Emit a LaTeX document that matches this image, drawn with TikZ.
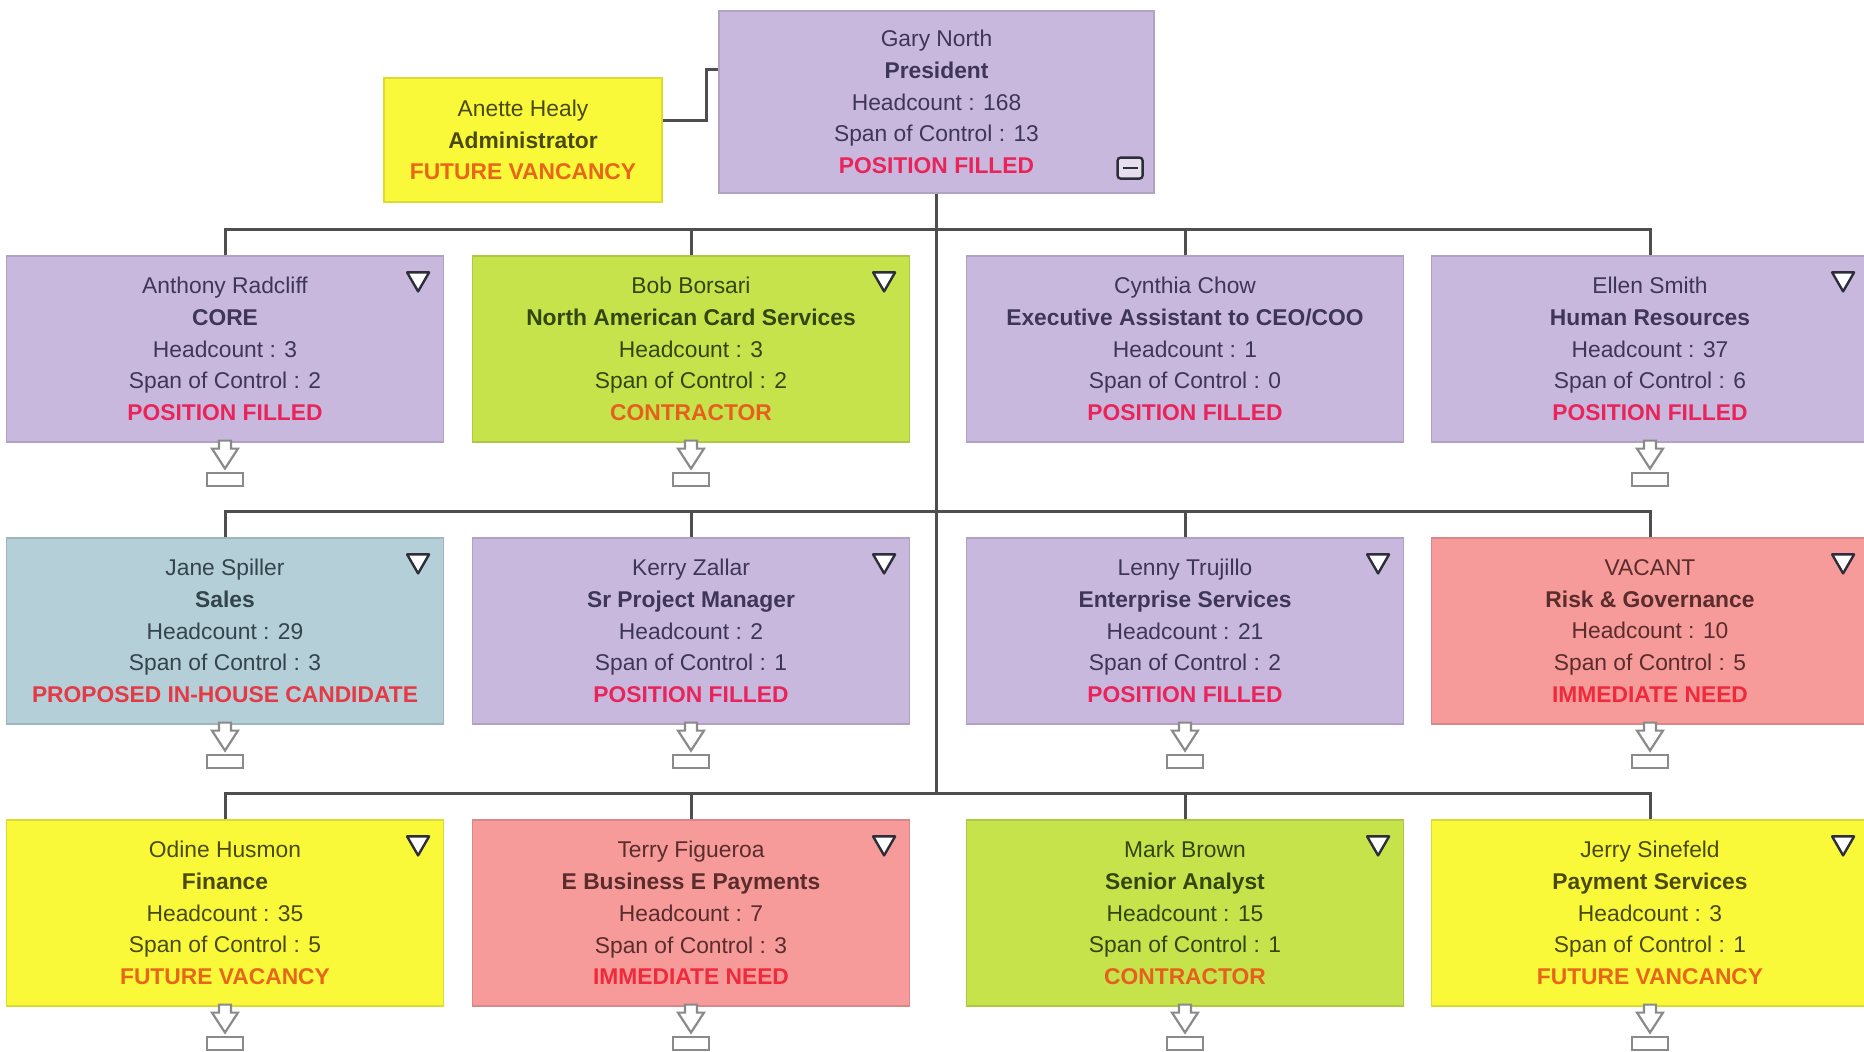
\documentclass[tikz,border=0pt]{standalone}
\usepackage{fontspec}
\setmainfont{Liberation Sans}
\usetikzlibrary{calc}
\definecolor{purpfill}{HTML}{C9B8DD}
\definecolor{greenfill}{HTML}{C6E34C}
\definecolor{yellowfill}{HTML}{F9F93A}
\definecolor{pinkfill}{HTML}{F69A9A}
\definecolor{bluefill}{HTML}{B4CFD8}
\definecolor{purptext}{HTML}{3E3656}
\definecolor{greentext}{HTML}{34460F}
\definecolor{yellowtext}{HTML}{4A4A10}
\definecolor{pinktext}{HTML}{5A2C2C}
\definecolor{bluetext}{HTML}{34444C}
\definecolor{stfilled}{HTML}{E8245A}
\definecolor{stcontr}{HTML}{E4601C}
\definecolor{stfuture}{HTML}{E8661A}
\definecolor{stneed}{HTML}{EE2A3C}
\definecolor{stprop}{HTML}{E33A45}
\definecolor{conncol}{HTML}{4E4E4E}
\definecolor{icondark}{HTML}{2E2E3A}
\definecolor{icongray}{HTML}{8A8A8A}
\newcommand\stFilled{\textbf{\textcolor{stfilled}{POSITION FILLED}}}
\newcommand\stContr{\textbf{\textcolor{stcontr}{CONTRACTOR}}}
\newcommand\stNeed{\textbf{\textcolor{stneed}{IMMEDIATE NEED}}}
\newcommand\obox[9]{\node[#4] (#1) at (#2,#3) {#5\\\textbf{#6}\\Headcount : #7\\Span of Control : #8\\#9};}
\newcommand\tricon[1]{\draw[tricn] ($(#1.north east)+(-37,17)$) -- ++(22,0) -- ++(-11,19) -- cycle;}
\newcommand\expicon[1]{\draw[expico] ($(#1.south)+(-6,-2)$) -- ++(12,0) -- ++(0,8) -- ++(7,0) -- ++(-13,20) -- ++(-13,-20) -- ++(7,0) -- cycle;
  \draw[expico] ($(#1.south)+(-18,30)$) rectangle ++(36,13);}
\tikzset{
  org/.style={rectangle, minimum width=437pt, minimum height=186pt, inner sep=0pt,
    align=center, font=\fontsize{22.8}{31.8}\selectfont, line width=1.2pt},
  purp/.style={org, fill=purpfill, draw=purpfill!88!black, text=purptext},
  grn/.style={org, fill=greenfill, draw=greenfill!88!black, text=greentext},
  yel/.style={org, fill=yellowfill, draw=yellowfill!88!black, text=yellowtext},
  pnk/.style={org, fill=pinkfill, draw=pinkfill!88!black, text=pinktext},
  blu/.style={org, fill=bluefill, draw=bluefill!88!black, text=bluetext},
  conn/.style={draw=conncol, line width=3pt},
  tricn/.style={draw=icondark, line width=2.4pt, fill=white, line join=round},
  expico/.style={draw=icongray, line width=2.2pt, fill=white, line join=miter},
}
\begin{document}
\begin{tikzpicture}[x=1pt,y=-1pt]
\useasboundingbox[fill=white] (0,0) rectangle (1864,1052);
% connectors
\coordinate (bus1) at (938,229);
\coordinate (bus2) at (938,511);
\coordinate (bus3) at (938,793);
% top boxes
\node[purp, minimum width=435pt, minimum height=182pt] (gary) at (936.5,102)
  {Gary North\\\textbf{President}\\Headcount : 168\\Span of Control : 13\\\stFilled};
\node[yel, minimum width=278pt, minimum height=124pt] (anette) at (523,140)
  {Anette Healy\\\textbf{Administrator}\\\textbf{\textcolor{stfuture}{FUTURE VANCANCY}}};
% row 1
\obox{r1c1}{225}{349}{purp}{Anthony Radcliff}{CORE}{3}{2}{\stFilled}
\obox{r1c2}{691}{349}{grn}{Bob Borsari}{North American Card Services}{3}{2}{\stContr}
\obox{r1c3}{1185}{349}{purp}{Cynthia Chow}{Executive Assistant to CEO/COO}{1}{0}{\stFilled}
\obox{r1c4}{1650}{349}{purp}{Ellen Smith}{Human Resources}{37}{6}{\stFilled}
% row 2
\obox{r2c1}{225}{631}{blu}{Jane Spiller}{Sales}{29}{3}{\textbf{\textcolor{stprop}{PROPOSED IN-HOUSE CANDIDATE}}}
\obox{r2c2}{691}{631}{purp}{Kerry Zallar}{Sr Project Manager}{2}{1}{\stFilled}
\obox{r2c3}{1185}{631}{purp}{Lenny Trujillo}{Enterprise Services}{21}{2}{\stFilled}
\obox{r2c4}{1650}{631}{pnk}{VACANT}{Risk \& Governance}{10}{5}{\stNeed}
% row 3
\obox{r3c1}{225}{913}{yel}{Odine Husmon}{Finance}{35}{5}{\textbf{\textcolor{stfuture}{FUTURE VACANCY}}}
\obox{r3c2}{691}{913}{pnk}{Terry Figueroa}{E Business E Payments}{7}{3}{\stNeed}
\obox{r3c3}{1185}{913}{grn}{Mark Brown}{Senior Analyst}{15}{1}{\stContr}
\obox{r3c4}{1650}{913}{yel}{Jerry Sinefeld}{Payment Services}{3}{1}{\textbf{\textcolor{stfuture}{FUTURE VANCANCY}}}
% connectors
\draw[conn] ([yshift=20pt]anette.east) -- ++(44,0) |- ([yshift=33pt]gary.west);
\draw[conn] (gary.south) -- (gary.south |- bus3);
\foreach \r/\b in {1/bus1,2/bus2,3/bus3}{
  \draw[conn] (r\r c1.north) |- (\b) -| (r\r c4.north);
  \draw[conn] (r\r c2.north) -- (r\r c2.north |- \b);
  \draw[conn] (r\r c3.north) -- (r\r c3.north |- \b);
}
% icons
\draw[draw=icondark, line width=2.4pt, fill=white!55!purpfill, rounded corners=3pt]
  ($(gary.south east)+(-37,-36)$) rectangle ++(25,21);
\draw[draw=icondark, line width=2.4pt] ($(gary.south east)+(-32,-25.5)$) -- ++(15,0);
\foreach \n in {r1c1,r1c2,r1c4,r2c1,r2c2,r2c3,r2c4,r3c1,r3c2,r3c3,r3c4}{\tricon{\n}}
\foreach \n in {r1c1,r1c2,r1c4,r2c1,r2c2,r2c3,r2c4,r3c1,r3c2,r3c3,r3c4}{\expicon{\n}}
\end{tikzpicture}
\end{document}
